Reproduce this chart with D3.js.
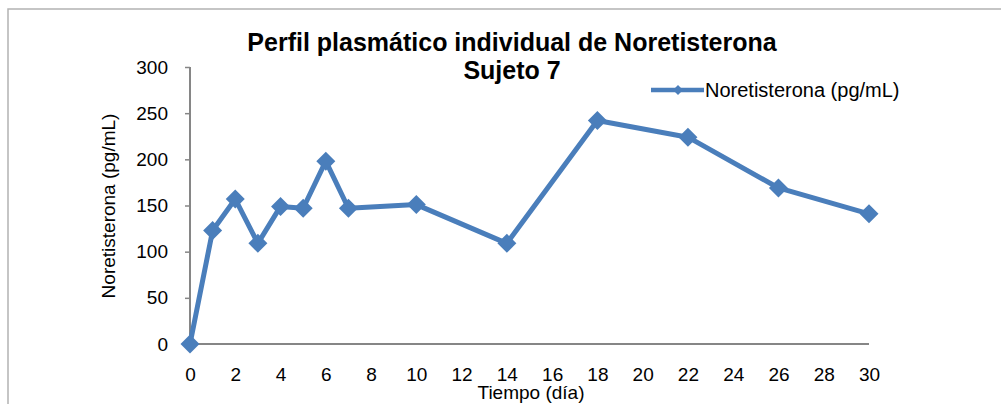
<!DOCTYPE html>
<html>
<head>
<meta charset="utf-8">
<script src="https://cdn.jsdelivr.net/npm/d3@7"></script>
<style>
  body { margin: 0; background: #fff; }
  text { font-family: "Liberation Sans", Arial, sans-serif; fill: #000; }
</style>
</head>
<body>
<svg id="visu" width="1001" height="404"></svg>
<script>
// data
var dias = [0, 1, 2, 3, 4, 5, 6, 7, 10, 14, 18, 22, 26, 30];
var noretisterona = [0, 123, 157, 109, 149, 147, 198, 147, 151, 109, 242, 224, 169, 141];
var xTicks = [0, 2, 4, 6, 8, 10, 12, 14, 16, 18, 20, 22, 24, 26, 28, 30];
var yTicks = [0, 50, 100, 150, 200, 250, 300];

var vis = d3.select("#visu"),
    BLUE = "#4a7ebb",
    AXIS = "#868686",
    MARGINS = { top: 67, right: 132, bottom: 60, left: 190 },
    WIDTH = 1001,
    HEIGHT = 404;

var xScale = d3.scaleLinear().domain([0, 30]).range([MARGINS.left, 869]),
    yScale = d3.scaleLinear().domain([0, 300]).range([344, MARGINS.top]);

// outer frame
vis.append("path")
  .attr("d", "M8," + HEIGHT + "V9H" + WIDTH)
  .attr("fill", "none")
  .attr("stroke", "#b3b3b3")
  .attr("stroke-width", 1.5);

// y axis
var yAxis = d3.axisLeft(yScale).tickValues(yTicks).tickSize(5).tickPadding(17);
var gy = vis.append("g")
  .attr("transform", "translate(" + MARGINS.left + ",0)")
  .call(yAxis);
gy.select(".domain").attr("stroke", AXIS).attr("stroke-width", 2).attr("d", "M0," + yScale(300) + "V" + yScale(0));
gy.selectAll(".tick line").attr("stroke", AXIS).attr("stroke-width", 1.5);
gy.selectAll("text").style("font-size", "19px").attr("font-family", null);

// x axis
var xAxis = d3.axisBottom(xScale).tickValues(xTicks).tickSize(0).tickPadding(24);
var gx = vis.append("g")
  .attr("transform", "translate(0," + yScale(0) + ")")
  .call(xAxis);
gx.select(".domain").attr("stroke", AXIS).attr("stroke-width", 2).attr("d", "M" + xScale(0) + ",0H" + xScale(30));
gx.selectAll("text").style("font-size", "19px").attr("font-family", null);

// line + markers
var lineGen = d3.line()
  .x(function(d, i) { return xScale(dias[i]); })
  .y(function(d) { return yScale(d); });

vis.append("path")
  .attr("d", lineGen(noretisterona))
  .attr("fill", "none")
  .attr("stroke", BLUE)
  .attr("stroke-width", 5)
  .attr("stroke-linejoin", "round");

var diamond = function(r) { return "M0," + (-r) + "L" + r + ",0L0," + r + "L" + (-r) + ",0Z"; };

vis.selectAll(".pt")
  .data(noretisterona)
  .enter().append("path")
  .attr("class", "pt")
  .attr("transform", function(d, i) { return "translate(" + xScale(dias[i]) + "," + yScale(d) + ")"; })
  .attr("d", diamond(9.5))
  .attr("fill", BLUE);

// titles
vis.append("text")
  .attr("x", 512).attr("y", 51)
  .attr("text-anchor", "middle")
  .style("font-size", "25px").style("font-weight", "bold")
  .text("Perfil plasmático individual de Noretisterona");
vis.append("text")
  .attr("x", 512).attr("y", 79)
  .attr("text-anchor", "middle")
  .style("font-size", "25px").style("font-weight", "bold")
  .text("Sujeto 7");

vis.append("text")
  .attr("x", 531).attr("y", 399)
  .attr("text-anchor", "middle")
  .style("font-size", "19px")
  .text("Tiempo (día)");

vis.append("text")
  .attr("transform", "translate(115,206) rotate(-90)")
  .attr("text-anchor", "middle")
  .style("font-size", "19px")
  .text("Noretisterona (pg/mL)");

// legend
var lg = vis.append("g").attr("transform", "translate(651,90)");
lg.append("line")
  .attr("x1", 0).attr("x2", 53).attr("y1", 0).attr("y2", 0)
  .attr("stroke", BLUE).attr("stroke-width", 4.5);
lg.append("path")
  .attr("transform", "translate(27,0)")
  .attr("d", diamond(5))
  .attr("fill", BLUE);
lg.append("text")
  .attr("x", 54).attr("y", 7)
  .style("font-size", "20px")
  .text("Noretisterona (pg/mL)");
</script>
</body>
</html>
